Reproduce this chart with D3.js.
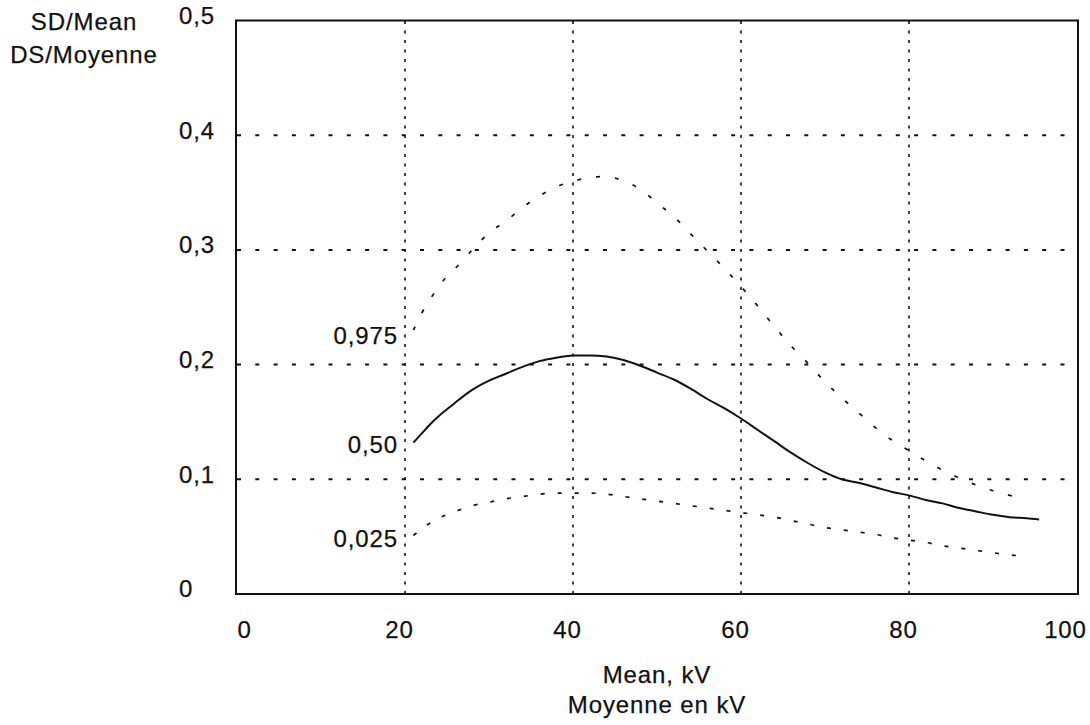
<!DOCTYPE html>
<html><head><meta charset="utf-8">
<script src="https://cdn.jsdelivr.net/npm/d3@7/dist/d3.min.js"></script>
<style>
html,body{margin:0;padding:0;background:#fff;}
text{font-family:Arial,"Liberation Sans",sans-serif;fill:#111;letter-spacing:0.9px;stroke:#111;stroke-width:0.25px;}
</style></head>
<body><svg id="c" width="1090" height="725"></svg>
<script>
const xTicks = [0,20,40,60,80,100];
const yTicks = [0,0.1,0.2,0.3,0.4,0.5];
const yTickLabels = ["0","0,1","0,2","0,3","0,4","0,5"];
const xGrid = [20,40,60,80];
const yGrid = [0.1,0.2,0.3,0.4];

const medX = [21,22,23,24,25,26,28,30,32,34,36,38,40,42,44,46,48,50,52,54,56,58,60,62,64,66,68,70,72,74,76,78,80,82,84,86,88,90,92,94,95.5];
const medY = [0.132,0.140,0.148,0.155,0.161,0.167,0.178,0.186,0.192,0.198,0.203,0.206,0.208,0.208,0.207,0.204,0.199,0.193,0.187,0.179,0.170,0.162,0.153,0.143,0.133,0.123,0.114,0.106,0.100,0.097,0.093,0.089,0.086,0.082,0.079,0.075,0.072,0.069,0.067,0.066,0.065];

const upX = [21,22,23,24,25,26,28,30,32,34,36,38,40,42,44,46,48,50,52,54,56,58,60,62,64,66,68,70,72,74,76,78,80,82,84,86,88,90,92,93.5];
const upY = [0.230,0.245,0.257,0.268,0.277,0.284,0.300,0.315,0.325,0.337,0.347,0.355,0.360,0.363,0.364,0.360,0.353,0.341,0.329,0.314,0.299,0.284,0.268,0.251,0.233,0.216,0.201,0.185,0.171,0.158,0.145,0.134,0.125,0.116,0.108,0.101,0.095,0.090,0.086,0.083];

const loX = [21,22,23,24,26,28,30,32,34,36,38,40,42,44,46,48,50,52,54,56,58,60,62,64,66,68,70,72,74,76,78,80,82,84,86,88,90,92,94];
const loY = [0.051,0.057,0.062,0.066,0.072,0.077,0.080,0.083,0.085,0.087,0.088,0.088,0.088,0.087,0.085,0.083,0.081,0.079,0.077,0.075,0.073,0.071,0.069,0.067,0.064,0.061,0.058,0.056,0.054,0.052,0.049,0.047,0.045,0.042,0.040,0.038,0.036,0.034,0.033];

const curveLabels = ["0,975","0,50","0,025"];
const curveLabelY = [0.225,0.130,0.048];

const svg = d3.select("#c");
const x = d3.scaleLinear().domain([0,100]).range([237,1077]);
const y = d3.scaleLinear().domain([0,0.5]).range([594,20.5]);
const FS = "24px";

// grid
svg.append("g").selectAll("line").data(yGrid).join("line")
  .attr("x1",x(0)).attr("x2",x(100)).attr("y1",d=>y(d)).attr("y2",d=>y(d))
  .attr("stroke","#111").attr("stroke-width",2).attr("stroke-dasharray","4,14.3");
svg.append("g").selectAll("line").data(xGrid).join("line")
  .attr("x1",d=>x(d)).attr("x2",d=>x(d)).attr("y1",y(0)).attr("y2",y(0.5))
  .attr("stroke","#111").attr("stroke-width",1.6).attr("stroke-dasharray","3,6.5");

// frame
svg.append("rect").attr("x",x(0)-1).attr("y",y(0.5)).attr("width",x(100)-x(0)+2).attr("height",y(0)-y(0.5))
  .attr("fill","none").attr("stroke","#111").attr("stroke-width",2);

// axes labels
const xAxis = d3.axisBottom(x).tickValues(xTicks).tickSize(0).tickFormat(d3.format("d"));
const gx = svg.append("g").attr("transform",`translate(0,${y(0)})`).call(xAxis);
gx.select(".domain").remove();
gx.selectAll("text").attr("font-size",FS).attr("y",44).attr("dy",0)
  .attr("text-anchor",d=>d===0?"start":"middle")
  .attr("dx",d=>d===0?0:(d===100?-12:-6))
  .style("font-family","Arial, 'Liberation Sans', sans-serif").attr("fill","#111");

const yAxis = d3.axisLeft(y).tickValues(yTicks).tickSize(0).tickFormat((d,i)=>yTickLabels[i]);
const gy = svg.append("g").attr("transform",`translate(179,0)`).call(yAxis);
gy.select(".domain").remove();
gy.selectAll("text").attr("font-size",FS).attr("text-anchor","start").attr("x",0).attr("dy","0.12em")
  .style("font-family","Arial, 'Liberation Sans', sans-serif").attr("fill","#111");

// curves
const line = d3.line().curve(d3.curveMonotoneX).x(d=>x(d[0])).y(d=>y(d[1]));
svg.append("path").datum(medX.map((v,i)=>[v,medY[i]])).attr("d",line)
  .attr("fill","none").attr("stroke","#111").attr("stroke-width",2);
svg.append("path").datum(upX.map((v,i)=>[v,upY[i]])).attr("d",line)
  .attr("fill","none").attr("stroke","#111").attr("stroke-width",1.7).attr("stroke-dasharray","4,15");
svg.append("path").datum(loX.map((v,i)=>[v,loY[i]])).attr("d",line)
  .attr("fill","none").attr("stroke","#111").attr("stroke-width",1.7).attr("stroke-dasharray","4,13");

// curve labels
svg.append("g").selectAll("text").data(curveLabels).join("text")
  .attr("x",398).attr("y",(d,i)=>y(curveLabelY[i])).attr("dy","0.35em")
  .attr("text-anchor","end").attr("font-size",FS).text(d=>d);

// titles
svg.append("text").attr("x",84).attr("y",30).attr("text-anchor","middle").attr("font-size",FS).text("SD/Mean");
svg.append("text").attr("x",84).attr("y",63).attr("text-anchor","middle").attr("font-size",FS).text("DS/Moyenne");
svg.append("text").attr("x",x(50)).attr("y",683).attr("text-anchor","middle").attr("font-size",FS).text("Mean, kV");
svg.append("text").attr("x",x(50)).attr("y",713).attr("text-anchor","middle").attr("font-size",FS).text("Moyenne en kV");
</script></body></html>
